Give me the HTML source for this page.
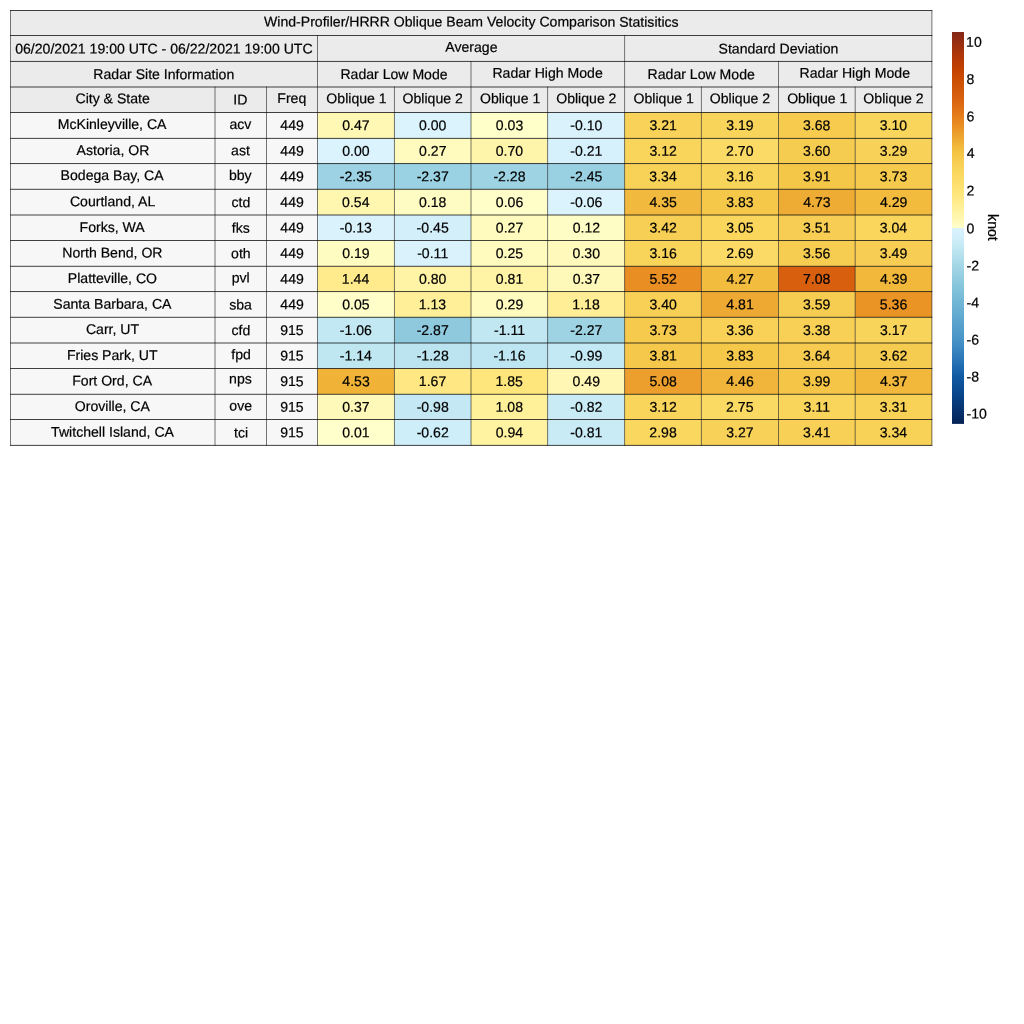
<!DOCTYPE html>
<html><head><meta charset="utf-8"><title>Wind-Profiler/HRRR Oblique Beam Velocity Comparison Statistics</title>
<style>html,body{margin:0;padding:0;background:#fff}svg{display:block}text{white-space:pre}</style></head>
<body><svg width="1024" height="1024" viewBox="0 0 1024 1024">
<defs><linearGradient id="cb" x1="0" y1="0" x2="0" y2="1"><stop offset="0.00194" stop-color="#852816"/><stop offset="0.02564" stop-color="#962d12"/><stop offset="0.04935" stop-color="#a8340c"/><stop offset="0.07305" stop-color="#b83a06"/><stop offset="0.09676" stop-color="#c44202"/><stop offset="0.12046" stop-color="#cc4d04"/><stop offset="0.14417" stop-color="#d25709"/><stop offset="0.16787" stop-color="#d8600f"/><stop offset="0.19158" stop-color="#de6e16"/><stop offset="0.21528" stop-color="#e57f1c"/><stop offset="0.23899" stop-color="#e98f22"/><stop offset="0.26269" stop-color="#eda22e"/><stop offset="0.28640" stop-color="#f0b439"/><stop offset="0.31010" stop-color="#f4c546"/><stop offset="0.33381" stop-color="#f7ce53"/><stop offset="0.35751" stop-color="#fad75e"/><stop offset="0.40492" stop-color="#fee377"/><stop offset="0.42863" stop-color="#ffea89"/><stop offset="0.45233" stop-color="#fff19d"/><stop offset="0.47604" stop-color="#fff7b2"/><stop offset="0.49974" stop-color="#ffffcc"/><stop offset="0.49974" stop-color="#dbf3fd"/><stop offset="0.52345" stop-color="#d2effa"/><stop offset="0.54715" stop-color="#c3e9f4"/><stop offset="0.59456" stop-color="#a5d8e6"/><stop offset="0.64197" stop-color="#8ac7dd"/><stop offset="0.68939" stop-color="#70b7d5"/><stop offset="0.73680" stop-color="#5ca5cf"/><stop offset="0.78421" stop-color="#4894c7"/><stop offset="0.83162" stop-color="#2d79ba"/><stop offset="0.87903" stop-color="#105aa4"/><stop offset="0.92644" stop-color="#08448a"/><stop offset="0.97385" stop-color="#062e68"/><stop offset="0.99755" stop-color="#052356"/></linearGradient></defs>
<rect x="0" y="0" width="1024" height="1024" fill="#ffffff"/>
<rect x="10.50" y="10.50" width="921.40" height="25.00" fill="#ebebeb"/>
<rect x="10.50" y="35.50" width="307.00" height="25.95" fill="#ebebeb"/>
<rect x="317.50" y="35.50" width="307.10" height="25.95" fill="#ebebeb"/>
<rect x="624.60" y="35.50" width="307.30" height="25.95" fill="#ebebeb"/>
<rect x="10.50" y="61.45" width="307.00" height="25.55" fill="#ebebeb"/>
<rect x="317.50" y="61.45" width="153.50" height="25.55" fill="#ebebeb"/>
<rect x="471.00" y="61.45" width="153.60" height="25.55" fill="#ebebeb"/>
<rect x="624.60" y="61.45" width="153.90" height="25.55" fill="#ebebeb"/>
<rect x="778.50" y="61.45" width="153.40" height="25.55" fill="#ebebeb"/>
<rect x="10.50" y="87.00" width="204.50" height="25.50" fill="#ebebeb"/>
<rect x="215.00" y="87.00" width="51.50" height="25.50" fill="#ebebeb"/>
<rect x="266.50" y="87.00" width="51.00" height="25.50" fill="#ebebeb"/>
<rect x="317.50" y="87.00" width="76.95" height="25.50" fill="#ebebeb"/>
<rect x="394.45" y="87.00" width="76.55" height="25.50" fill="#ebebeb"/>
<rect x="471.00" y="87.00" width="76.60" height="25.50" fill="#ebebeb"/>
<rect x="547.60" y="87.00" width="77.00" height="25.50" fill="#ebebeb"/>
<rect x="624.60" y="87.00" width="76.80" height="25.50" fill="#ebebeb"/>
<rect x="701.40" y="87.00" width="77.10" height="25.50" fill="#ebebeb"/>
<rect x="778.50" y="87.00" width="76.70" height="25.50" fill="#ebebeb"/>
<rect x="855.20" y="87.00" width="76.70" height="25.50" fill="#ebebeb"/>
<rect x="10.50" y="112.50" width="204.50" height="25.90" fill="#f7f7f7"/>
<rect x="215.00" y="112.50" width="51.50" height="25.90" fill="#f7f7f7"/>
<rect x="266.50" y="112.50" width="51.00" height="25.90" fill="#f7f7f7"/>
<rect x="317.50" y="112.50" width="76.95" height="25.90" fill="#fff7b4"/>
<rect x="394.45" y="112.50" width="76.55" height="25.90" fill="#dbf3fd"/>
<rect x="471.00" y="112.50" width="76.60" height="25.90" fill="#ffffca"/>
<rect x="547.60" y="112.50" width="77.00" height="25.90" fill="#d9f2fc"/>
<rect x="624.60" y="112.50" width="76.80" height="25.90" fill="#f9d359"/>
<rect x="701.40" y="112.50" width="77.10" height="25.90" fill="#f9d45a"/>
<rect x="778.50" y="112.50" width="76.70" height="25.90" fill="#f6cb4e"/>
<rect x="855.20" y="112.50" width="76.70" height="25.90" fill="#f9d55c"/>
<rect x="10.50" y="138.40" width="204.50" height="25.15" fill="#f7f7f7"/>
<rect x="215.00" y="138.40" width="51.50" height="25.15" fill="#f7f7f7"/>
<rect x="266.50" y="138.40" width="51.00" height="25.15" fill="#f7f7f7"/>
<rect x="317.50" y="138.40" width="76.95" height="25.15" fill="#dbf3fd"/>
<rect x="394.45" y="138.40" width="76.55" height="25.15" fill="#fffbbe"/>
<rect x="471.00" y="138.40" width="76.60" height="25.15" fill="#fff5aa"/>
<rect x="547.60" y="138.40" width="77.00" height="25.15" fill="#d7f1fc"/>
<rect x="624.60" y="138.40" width="76.80" height="25.15" fill="#f9d55b"/>
<rect x="701.40" y="138.40" width="77.10" height="25.15" fill="#fbdb66"/>
<rect x="778.50" y="138.40" width="76.70" height="25.15" fill="#f6cc50"/>
<rect x="855.20" y="138.40" width="76.70" height="25.15" fill="#f8d258"/>
<rect x="10.50" y="163.55" width="204.50" height="25.75" fill="#f7f7f7"/>
<rect x="215.00" y="163.55" width="51.50" height="25.75" fill="#f7f7f7"/>
<rect x="266.50" y="163.55" width="51.00" height="25.75" fill="#f7f7f7"/>
<rect x="317.50" y="163.55" width="76.95" height="25.75" fill="#9cd2e3"/>
<rect x="394.45" y="163.55" width="76.55" height="25.75" fill="#9bd2e3"/>
<rect x="471.00" y="163.55" width="76.60" height="25.75" fill="#9dd3e3"/>
<rect x="547.60" y="163.55" width="77.00" height="25.75" fill="#99d0e2"/>
<rect x="624.60" y="163.55" width="76.80" height="25.75" fill="#f8d157"/>
<rect x="701.40" y="163.55" width="77.10" height="25.75" fill="#f9d45a"/>
<rect x="778.50" y="163.55" width="76.70" height="25.75" fill="#f5c748"/>
<rect x="855.20" y="163.55" width="76.70" height="25.75" fill="#f6ca4d"/>
<rect x="10.50" y="189.30" width="204.50" height="25.70" fill="#f7f7f7"/>
<rect x="215.00" y="189.30" width="51.50" height="25.70" fill="#f7f7f7"/>
<rect x="266.50" y="189.30" width="51.00" height="25.70" fill="#f7f7f7"/>
<rect x="317.50" y="189.30" width="76.95" height="25.70" fill="#fff7b0"/>
<rect x="394.45" y="189.30" width="76.55" height="25.70" fill="#fffcc3"/>
<rect x="471.00" y="189.30" width="76.60" height="25.70" fill="#fffec9"/>
<rect x="547.60" y="189.30" width="77.00" height="25.70" fill="#daf3fd"/>
<rect x="624.60" y="189.30" width="76.80" height="25.70" fill="#f1b93d"/>
<rect x="701.40" y="189.30" width="77.10" height="25.70" fill="#f5c84a"/>
<rect x="778.50" y="189.30" width="76.70" height="25.70" fill="#efac34"/>
<rect x="855.20" y="189.30" width="76.70" height="25.70" fill="#f2bb3e"/>
<rect x="10.50" y="215.00" width="204.50" height="25.50" fill="#f7f7f7"/>
<rect x="215.00" y="215.00" width="51.50" height="25.50" fill="#f7f7f7"/>
<rect x="266.50" y="215.00" width="51.00" height="25.50" fill="#f7f7f7"/>
<rect x="317.50" y="215.00" width="76.95" height="25.50" fill="#d9f2fc"/>
<rect x="394.45" y="215.00" width="76.55" height="25.50" fill="#d3effa"/>
<rect x="471.00" y="215.00" width="76.60" height="25.50" fill="#fffbbe"/>
<rect x="547.60" y="215.00" width="77.00" height="25.50" fill="#fffdc6"/>
<rect x="624.60" y="215.00" width="76.80" height="25.50" fill="#f7cf55"/>
<rect x="701.40" y="215.00" width="77.10" height="25.50" fill="#fad65d"/>
<rect x="778.50" y="215.00" width="76.70" height="25.50" fill="#f7ce53"/>
<rect x="855.20" y="215.00" width="76.70" height="25.50" fill="#fad65d"/>
<rect x="10.50" y="240.50" width="204.50" height="25.80" fill="#f7f7f7"/>
<rect x="215.00" y="240.50" width="51.50" height="25.80" fill="#f7f7f7"/>
<rect x="266.50" y="240.50" width="51.00" height="25.80" fill="#f7f7f7"/>
<rect x="317.50" y="240.50" width="76.95" height="25.80" fill="#fffcc2"/>
<rect x="394.45" y="240.50" width="76.55" height="25.80" fill="#d9f2fc"/>
<rect x="471.00" y="240.50" width="76.60" height="25.80" fill="#fffbbf"/>
<rect x="547.60" y="240.50" width="77.00" height="25.80" fill="#fffabc"/>
<rect x="624.60" y="240.50" width="76.80" height="25.80" fill="#f9d45a"/>
<rect x="701.40" y="240.50" width="77.10" height="25.80" fill="#fbdb66"/>
<rect x="778.50" y="240.50" width="76.70" height="25.80" fill="#f7cd51"/>
<rect x="855.20" y="240.50" width="76.70" height="25.80" fill="#f7ce53"/>
<rect x="10.50" y="266.30" width="204.50" height="25.25" fill="#f7f7f7"/>
<rect x="215.00" y="266.30" width="51.50" height="25.25" fill="#f7f7f7"/>
<rect x="266.50" y="266.30" width="51.00" height="25.25" fill="#f7f7f7"/>
<rect x="317.50" y="266.30" width="76.95" height="25.25" fill="#ffeb8b"/>
<rect x="394.45" y="266.30" width="76.55" height="25.25" fill="#fff3a5"/>
<rect x="471.00" y="266.30" width="76.60" height="25.25" fill="#fff3a5"/>
<rect x="547.60" y="266.30" width="77.00" height="25.25" fill="#fff9b9"/>
<rect x="624.60" y="266.30" width="76.80" height="25.25" fill="#e98e22"/>
<rect x="701.40" y="266.30" width="77.10" height="25.25" fill="#f2bc3f"/>
<rect x="778.50" y="266.30" width="76.70" height="25.25" fill="#d75f0e"/>
<rect x="855.20" y="266.30" width="76.70" height="25.25" fill="#f1b83c"/>
<rect x="10.50" y="291.55" width="204.50" height="25.75" fill="#f7f7f7"/>
<rect x="215.00" y="291.55" width="51.50" height="25.75" fill="#f7f7f7"/>
<rect x="266.50" y="291.55" width="51.00" height="25.75" fill="#f7f7f7"/>
<rect x="317.50" y="291.55" width="76.95" height="25.75" fill="#fffec9"/>
<rect x="394.45" y="291.55" width="76.55" height="25.75" fill="#ffef98"/>
<rect x="471.00" y="291.55" width="76.60" height="25.75" fill="#fffabd"/>
<rect x="547.60" y="291.55" width="77.00" height="25.75" fill="#ffee96"/>
<rect x="624.60" y="291.55" width="76.80" height="25.75" fill="#f8d055"/>
<rect x="701.40" y="291.55" width="77.10" height="25.75" fill="#eea932"/>
<rect x="778.50" y="291.55" width="76.70" height="25.75" fill="#f6cc51"/>
<rect x="855.20" y="291.55" width="76.70" height="25.75" fill="#ea9425"/>
<rect x="10.50" y="317.30" width="204.50" height="25.70" fill="#f7f7f7"/>
<rect x="215.00" y="317.30" width="51.50" height="25.70" fill="#f7f7f7"/>
<rect x="266.50" y="317.30" width="51.00" height="25.70" fill="#f7f7f7"/>
<rect x="317.50" y="317.30" width="76.95" height="25.70" fill="#c1e8f3"/>
<rect x="394.45" y="317.30" width="76.55" height="25.70" fill="#8ec9de"/>
<rect x="471.00" y="317.30" width="76.60" height="25.70" fill="#c0e7f2"/>
<rect x="547.60" y="317.30" width="77.00" height="25.70" fill="#9ed3e4"/>
<rect x="624.60" y="317.30" width="76.80" height="25.70" fill="#f6ca4d"/>
<rect x="701.40" y="317.30" width="77.10" height="25.70" fill="#f8d156"/>
<rect x="778.50" y="317.30" width="76.70" height="25.70" fill="#f8d056"/>
<rect x="855.20" y="317.30" width="76.70" height="25.70" fill="#f9d45a"/>
<rect x="10.50" y="343.00" width="204.50" height="25.50" fill="#f7f7f7"/>
<rect x="215.00" y="343.00" width="51.50" height="25.50" fill="#f7f7f7"/>
<rect x="266.50" y="343.00" width="51.00" height="25.50" fill="#f7f7f7"/>
<rect x="317.50" y="343.00" width="76.95" height="25.50" fill="#bfe7f2"/>
<rect x="394.45" y="343.00" width="76.55" height="25.50" fill="#bbe4f0"/>
<rect x="471.00" y="343.00" width="76.60" height="25.50" fill="#bee6f2"/>
<rect x="547.60" y="343.00" width="77.00" height="25.50" fill="#c3e9f4"/>
<rect x="624.60" y="343.00" width="76.80" height="25.50" fill="#f5c84b"/>
<rect x="701.40" y="343.00" width="77.10" height="25.50" fill="#f5c84a"/>
<rect x="778.50" y="343.00" width="76.70" height="25.50" fill="#f6cb4f"/>
<rect x="855.20" y="343.00" width="76.70" height="25.50" fill="#f6cc50"/>
<rect x="10.50" y="368.50" width="204.50" height="25.80" fill="#f7f7f7"/>
<rect x="215.00" y="368.50" width="51.50" height="25.80" fill="#f7f7f7"/>
<rect x="266.50" y="368.50" width="51.00" height="25.80" fill="#f7f7f7"/>
<rect x="317.50" y="368.50" width="76.95" height="25.80" fill="#f0b338"/>
<rect x="394.45" y="368.50" width="76.55" height="25.80" fill="#ffe883"/>
<rect x="471.00" y="368.50" width="76.60" height="25.80" fill="#fee57c"/>
<rect x="547.60" y="368.50" width="77.00" height="25.80" fill="#fff7b3"/>
<rect x="624.60" y="368.50" width="76.80" height="25.80" fill="#ec9f2c"/>
<rect x="701.40" y="368.50" width="77.10" height="25.80" fill="#f0b53a"/>
<rect x="778.50" y="368.50" width="76.70" height="25.80" fill="#f4c546"/>
<rect x="855.20" y="368.50" width="76.70" height="25.80" fill="#f1b83c"/>
<rect x="10.50" y="394.30" width="204.50" height="25.20" fill="#f7f7f7"/>
<rect x="215.00" y="394.30" width="51.50" height="25.20" fill="#f7f7f7"/>
<rect x="266.50" y="394.30" width="51.00" height="25.20" fill="#f7f7f7"/>
<rect x="317.50" y="394.30" width="76.95" height="25.20" fill="#fff9b9"/>
<rect x="394.45" y="394.30" width="76.55" height="25.20" fill="#c4e9f4"/>
<rect x="471.00" y="394.30" width="76.60" height="25.20" fill="#fff09a"/>
<rect x="547.60" y="394.30" width="77.00" height="25.20" fill="#c8ebf6"/>
<rect x="624.60" y="394.30" width="76.80" height="25.20" fill="#f9d55b"/>
<rect x="701.40" y="394.30" width="77.10" height="25.20" fill="#fbda64"/>
<rect x="778.50" y="394.30" width="76.70" height="25.20" fill="#f9d55c"/>
<rect x="855.20" y="394.30" width="76.70" height="25.20" fill="#f8d157"/>
<rect x="10.50" y="419.50" width="204.50" height="25.90" fill="#f7f7f7"/>
<rect x="215.00" y="419.50" width="51.50" height="25.90" fill="#f7f7f7"/>
<rect x="266.50" y="419.50" width="51.00" height="25.90" fill="#f7f7f7"/>
<rect x="317.50" y="419.50" width="76.95" height="25.90" fill="#ffffcb"/>
<rect x="394.45" y="419.50" width="76.55" height="25.90" fill="#ceeef9"/>
<rect x="471.00" y="419.50" width="76.60" height="25.90" fill="#fff2a0"/>
<rect x="547.60" y="419.50" width="77.00" height="25.90" fill="#c9ebf6"/>
<rect x="624.60" y="419.50" width="76.80" height="25.90" fill="#fad75e"/>
<rect x="701.40" y="419.50" width="77.10" height="25.90" fill="#f8d258"/>
<rect x="778.50" y="419.50" width="76.70" height="25.90" fill="#f8d055"/>
<rect x="855.20" y="419.50" width="76.70" height="25.90" fill="#f8d157"/>
<path d="M10.11 10.50H932.29M10.11 35.50H932.29M10.11 61.45H932.29M10.11 87.00H932.29M10.11 112.50H932.29M10.11 138.40H932.29M10.11 163.55H932.29M10.11 189.30H932.29M10.11 215.00H932.29M10.11 240.50H932.29M10.11 266.30H932.29M10.11 291.55H932.29M10.11 317.30H932.29M10.11 343.00H932.29M10.11 368.50H932.29M10.11 394.30H932.29M10.11 419.50H932.29M10.11 445.40H932.29" fill="none" stroke="#0a0a0a" stroke-width="0.78"/>
<path d="M10.50 10.11V445.79M215.00 86.61V445.79M266.50 86.61V445.79M317.50 35.11V445.79M394.45 86.61V445.79M471.00 61.06V445.79M547.60 86.61V445.79M624.60 35.11V445.79M701.40 86.61V445.79M778.50 61.06V445.79M855.20 86.61V445.79M931.90 10.11V445.79" fill="none" stroke="#0a0a0a" stroke-width="0.56"/>
<g font-family="'Liberation Sans', Arial, Helvetica, sans-serif" font-size="14.08" fill="#000" stroke="#000" stroke-width="0.2">
<text x="264.00" y="26.54" transform="rotate(0.04 471.15 22.90)">Wind-Profiler/HRRR Oblique Beam Velocity Comparison Statisitics</text>
<text x="15.23" y="53.53" transform="rotate(0.04 163.95 48.50)">06/20/2021 19:00 UTC - 06/22/2021 19:00 UTC</text>
<text x="445.30" y="51.88" transform="rotate(0.04 471.10 48.50)">Average</text>
<text x="718.57" y="53.53" transform="rotate(0.04 778.30 48.50)">Standard Deviation</text>
<text x="93.39" y="79.13" transform="rotate(0.04 163.95 74.10)">Radar Site Information</text>
<text x="340.41" y="79.13" transform="rotate(0.04 394.30 74.10)">Radar Low Mode</text>
<text x="492.44" y="77.74" transform="rotate(0.04 547.90 74.10)">Radar High Mode</text>
<text x="647.61" y="79.13" transform="rotate(0.04 701.50 74.10)">Radar Low Mode</text>
<text x="799.64" y="77.74" transform="rotate(0.04 855.10 74.10)">Radar High Mode</text>
<text x="75.48" y="103.34" transform="rotate(0.04 112.70 99.70)">City &amp; State</text>
<text x="233.34" y="104.54" transform="rotate(0.04 240.70 99.70)">ID</text>
<text x="277.34" y="103.08" transform="rotate(0.04 291.95 99.70)">Freq</text>
<text x="326.37" y="103.34" transform="rotate(0.04 355.90 99.70)">Oblique 1</text>
<text x="402.59" y="103.34" transform="rotate(0.04 432.70 99.70)">Oblique 2</text>
<text x="479.97" y="103.34" transform="rotate(0.04 509.50 99.70)">Oblique 1</text>
<text x="556.19" y="103.34" transform="rotate(0.04 586.30 99.70)">Oblique 2</text>
<text x="633.57" y="103.34" transform="rotate(0.04 663.10 99.70)">Oblique 1</text>
<text x="709.79" y="103.34" transform="rotate(0.04 739.90 99.70)">Oblique 2</text>
<text x="787.17" y="103.34" transform="rotate(0.04 816.70 99.70)">Oblique 1</text>
<text x="863.39" y="103.34" transform="rotate(0.04 893.50 99.70)">Oblique 2</text>
<text x="57.75" y="128.94" transform="rotate(0.04 112.70 125.30)">McKinleyville, CA</text>
<text x="229.49" y="129.01" transform="rotate(0.04 240.70 125.30)">acv</text>
<text x="280.37" y="130.14" transform="rotate(0.04 291.95 125.30)">449</text>
<text x="342.28" y="130.14" transform="rotate(0.04 355.90 125.30)">0.47</text>
<text x="418.99" y="130.14" transform="rotate(0.04 432.70 125.30)">0.00</text>
<text x="495.82" y="130.14" transform="rotate(0.04 509.50 125.30)">0.03</text>
<text x="570.21" y="130.14" transform="rotate(0.04 586.30 125.30)">-0.10</text>
<text x="649.48" y="130.14" transform="rotate(0.04 663.10 125.30)">3.21</text>
<text x="726.26" y="130.14" transform="rotate(0.04 739.90 125.30)">3.19</text>
<text x="803.04" y="130.14" transform="rotate(0.04 816.70 125.30)">3.68</text>
<text x="879.81" y="130.14" transform="rotate(0.04 893.50 125.30)">3.10</text>
<text x="76.64" y="155.11" transform="rotate(0.04 112.70 150.90)">Astoria, OR</text>
<text x="231.07" y="155.37" transform="rotate(0.04 240.70 150.90)">ast</text>
<text x="280.37" y="155.74" transform="rotate(0.04 291.95 150.90)">449</text>
<text x="342.19" y="155.74" transform="rotate(0.04 355.90 150.90)">0.00</text>
<text x="419.08" y="155.74" transform="rotate(0.04 432.70 150.90)">0.27</text>
<text x="495.79" y="155.74" transform="rotate(0.04 509.50 150.90)">0.70</text>
<text x="570.28" y="155.74" transform="rotate(0.04 586.30 150.90)">-0.21</text>
<text x="649.50" y="155.74" transform="rotate(0.04 663.10 150.90)">3.12</text>
<text x="726.12" y="155.74" transform="rotate(0.04 739.90 150.90)">2.70</text>
<text x="803.01" y="155.74" transform="rotate(0.04 816.70 150.90)">3.60</text>
<text x="879.86" y="155.74" transform="rotate(0.04 893.50 150.90)">3.29</text>
<text x="60.60" y="180.14" transform="rotate(0.04 112.70 176.50)">Bodega Bay, CA</text>
<text x="228.91" y="180.14" transform="rotate(0.04 240.70 176.50)">bby</text>
<text x="280.37" y="181.34" transform="rotate(0.04 291.95 176.50)">449</text>
<text x="339.83" y="181.34" transform="rotate(0.04 355.90 176.50)">-2.35</text>
<text x="416.70" y="181.34" transform="rotate(0.04 432.70 176.50)">-2.37</text>
<text x="493.45" y="181.34" transform="rotate(0.04 509.50 176.50)">-2.28</text>
<text x="570.23" y="181.34" transform="rotate(0.04 586.30 176.50)">-2.45</text>
<text x="649.34" y="181.34" transform="rotate(0.04 663.10 176.50)">3.34</text>
<text x="726.24" y="181.34" transform="rotate(0.04 739.90 176.50)">3.16</text>
<text x="803.08" y="181.34" transform="rotate(0.04 816.70 176.50)">3.91</text>
<text x="879.84" y="181.34" transform="rotate(0.04 893.50 176.50)">3.73</text>
<text x="69.93" y="206.31" transform="rotate(0.04 112.70 202.10)">Courtland, AL</text>
<text x="231.46" y="207.13" transform="rotate(0.04 240.70 202.10)">ctd</text>
<text x="280.37" y="206.94" transform="rotate(0.04 291.95 202.10)">449</text>
<text x="342.12" y="206.94" transform="rotate(0.04 355.90 202.10)">0.54</text>
<text x="419.02" y="206.94" transform="rotate(0.04 432.70 202.10)">0.18</text>
<text x="495.82" y="206.94" transform="rotate(0.04 509.50 202.10)">0.06</text>
<text x="570.25" y="206.94" transform="rotate(0.04 586.30 202.10)">-0.06</text>
<text x="649.53" y="206.94" transform="rotate(0.04 663.10 202.10)">4.35</text>
<text x="726.24" y="206.94" transform="rotate(0.04 739.90 202.10)">3.83</text>
<text x="803.15" y="206.94" transform="rotate(0.04 816.70 202.10)">4.73</text>
<text x="879.97" y="206.94" transform="rotate(0.04 893.50 202.10)">4.29</text>
<text x="79.54" y="231.91" transform="rotate(0.04 112.70 227.70)">Forks, WA</text>
<text x="231.85" y="232.73" transform="rotate(0.04 240.70 227.70)">fks</text>
<text x="280.37" y="232.54" transform="rotate(0.04 291.95 227.70)">449</text>
<text x="339.85" y="232.54" transform="rotate(0.04 355.90 227.70)">-0.13</text>
<text x="416.63" y="232.54" transform="rotate(0.04 432.70 227.70)">-0.45</text>
<text x="495.88" y="232.54" transform="rotate(0.04 509.50 227.70)">0.27</text>
<text x="572.68" y="232.54" transform="rotate(0.04 586.30 227.70)">0.12</text>
<text x="649.50" y="232.54" transform="rotate(0.04 663.10 227.70)">3.42</text>
<text x="726.22" y="232.54" transform="rotate(0.04 739.90 227.70)">3.05</text>
<text x="803.08" y="232.54" transform="rotate(0.04 816.70 227.70)">3.51</text>
<text x="879.74" y="232.54" transform="rotate(0.04 893.50 227.70)">3.04</text>
<text x="62.36" y="257.51" transform="rotate(0.04 112.70 253.30)">North Bend, OR</text>
<text x="231.07" y="258.33" transform="rotate(0.04 240.70 253.30)">oth</text>
<text x="280.37" y="258.14" transform="rotate(0.04 291.95 253.30)">449</text>
<text x="342.24" y="258.14" transform="rotate(0.04 355.90 253.30)">0.19</text>
<text x="417.19" y="258.14" transform="rotate(0.04 432.70 253.30)">-0.11</text>
<text x="495.81" y="258.14" transform="rotate(0.04 509.50 253.30)">0.25</text>
<text x="572.59" y="258.14" transform="rotate(0.04 586.30 253.30)">0.30</text>
<text x="649.44" y="258.14" transform="rotate(0.04 663.10 253.30)">3.16</text>
<text x="726.17" y="258.14" transform="rotate(0.04 739.90 253.30)">2.69</text>
<text x="803.04" y="258.14" transform="rotate(0.04 816.70 253.30)">3.56</text>
<text x="879.86" y="258.14" transform="rotate(0.04 893.50 253.30)">3.49</text>
<text x="67.86" y="283.11" transform="rotate(0.04 112.70 278.90)">Platteville, CO</text>
<text x="231.72" y="282.54" transform="rotate(0.04 240.70 278.90)">pvl</text>
<text x="280.37" y="283.74" transform="rotate(0.04 291.95 278.90)">449</text>
<text x="341.87" y="283.74" transform="rotate(0.04 355.90 278.90)">1.44</text>
<text x="418.99" y="283.74" transform="rotate(0.04 432.70 278.90)">0.80</text>
<text x="495.86" y="283.74" transform="rotate(0.04 509.50 278.90)">0.81</text>
<text x="572.68" y="283.74" transform="rotate(0.04 586.30 278.90)">0.37</text>
<text x="649.48" y="283.74" transform="rotate(0.04 663.10 278.90)">5.52</text>
<text x="726.40" y="283.81" transform="rotate(0.04 739.90 278.90)">4.27</text>
<text x="802.94" y="283.74" transform="rotate(0.04 816.70 278.90)">7.08</text>
<text x="879.97" y="283.74" transform="rotate(0.04 893.50 278.90)">4.39</text>
<text x="53.30" y="308.71" transform="rotate(0.04 112.70 304.50)">Santa Barbara, CA</text>
<text x="229.17" y="309.53" transform="rotate(0.04 240.70 304.50)">sba</text>
<text x="280.37" y="309.34" transform="rotate(0.04 291.95 304.50)">449</text>
<text x="342.21" y="309.34" transform="rotate(0.04 355.90 304.50)">0.05</text>
<text x="418.78" y="309.34" transform="rotate(0.04 432.70 304.50)">1.13</text>
<text x="495.84" y="309.34" transform="rotate(0.04 509.50 304.50)">0.29</text>
<text x="572.38" y="309.34" transform="rotate(0.04 586.30 304.50)">1.18</text>
<text x="649.41" y="309.34" transform="rotate(0.04 663.10 304.50)">3.40</text>
<text x="726.38" y="309.34" transform="rotate(0.04 739.90 304.50)">4.81</text>
<text x="803.06" y="309.34" transform="rotate(0.04 816.70 304.50)">3.59</text>
<text x="879.82" y="309.34" transform="rotate(0.04 893.50 304.50)">5.36</text>
<text x="85.91" y="334.11" transform="rotate(0.04 112.70 330.10)">Carr, UT</text>
<text x="231.46" y="335.13" transform="rotate(0.04 240.70 330.10)">cfd</text>
<text x="280.16" y="334.94" transform="rotate(0.04 291.95 330.10)">915</text>
<text x="339.85" y="334.94" transform="rotate(0.04 355.90 330.10)">-1.06</text>
<text x="416.70" y="334.94" transform="rotate(0.04 432.70 330.10)">-2.87</text>
<text x="493.99" y="334.94" transform="rotate(0.04 509.50 330.10)">-1.11</text>
<text x="570.30" y="335.01" transform="rotate(0.04 586.30 330.10)">-2.27</text>
<text x="649.44" y="334.94" transform="rotate(0.04 663.10 330.10)">3.73</text>
<text x="726.24" y="334.94" transform="rotate(0.04 739.90 330.10)">3.36</text>
<text x="803.04" y="334.94" transform="rotate(0.04 816.70 330.10)">3.38</text>
<text x="879.90" y="334.94" transform="rotate(0.04 893.50 330.10)">3.17</text>
<text x="66.90" y="359.91" transform="rotate(0.04 112.70 355.70)">Fries Park, UT</text>
<text x="231.25" y="359.34" transform="rotate(0.04 240.70 355.70)">fpd</text>
<text x="280.16" y="360.54" transform="rotate(0.04 291.95 355.70)">915</text>
<text x="339.74" y="360.54" transform="rotate(0.04 355.90 355.70)">-1.14</text>
<text x="416.65" y="360.54" transform="rotate(0.04 432.70 355.70)">-1.28</text>
<text x="493.45" y="360.54" transform="rotate(0.04 509.50 355.70)">-1.16</text>
<text x="570.27" y="360.54" transform="rotate(0.04 586.30 355.70)">-0.99</text>
<text x="649.48" y="360.54" transform="rotate(0.04 663.10 355.70)">3.81</text>
<text x="726.24" y="360.54" transform="rotate(0.04 739.90 355.70)">3.83</text>
<text x="802.94" y="360.54" transform="rotate(0.04 816.70 355.70)">3.64</text>
<text x="879.90" y="360.54" transform="rotate(0.04 893.50 355.70)">3.62</text>
<text x="72.24" y="385.51" transform="rotate(0.04 112.70 381.30)">Fort Ord, CA</text>
<text x="229.12" y="383.62" transform="rotate(0.04 240.70 381.30)">nps</text>
<text x="280.16" y="386.14" transform="rotate(0.04 291.95 381.30)">915</text>
<text x="342.35" y="386.14" transform="rotate(0.04 355.90 381.30)">4.53</text>
<text x="418.83" y="386.14" transform="rotate(0.04 432.70 381.30)">1.67</text>
<text x="495.56" y="386.14" transform="rotate(0.04 509.50 381.30)">1.85</text>
<text x="572.64" y="386.14" transform="rotate(0.04 586.30 381.30)">0.49</text>
<text x="649.42" y="386.14" transform="rotate(0.04 663.10 381.30)">5.08</text>
<text x="726.35" y="386.14" transform="rotate(0.04 739.90 381.30)">4.46</text>
<text x="803.06" y="386.14" transform="rotate(0.04 816.70 381.30)">3.99</text>
<text x="880.00" y="386.14" transform="rotate(0.04 893.50 381.30)">4.37</text>
<text x="74.82" y="411.11" transform="rotate(0.04 112.70 406.90)">Oroville, CA</text>
<text x="229.37" y="410.61" transform="rotate(0.04 240.70 406.90)">ove</text>
<text x="280.16" y="411.74" transform="rotate(0.04 291.95 406.90)">915</text>
<text x="342.28" y="411.74" transform="rotate(0.04 355.90 406.90)">0.37</text>
<text x="416.65" y="411.74" transform="rotate(0.04 432.70 406.90)">-0.98</text>
<text x="495.58" y="411.74" transform="rotate(0.04 509.50 406.90)">1.08</text>
<text x="570.30" y="411.74" transform="rotate(0.04 586.30 406.90)">-0.82</text>
<text x="649.50" y="411.74" transform="rotate(0.04 663.10 406.90)">3.12</text>
<text x="726.14" y="411.74" transform="rotate(0.04 739.90 406.90)">2.75</text>
<text x="803.61" y="411.74" transform="rotate(0.04 816.70 406.90)">3.11</text>
<text x="879.88" y="411.74" transform="rotate(0.04 893.50 406.90)">3.31</text>
<text x="51.12" y="436.71" transform="rotate(0.04 112.70 432.50)">Twitchell Island, CA</text>
<text x="234.03" y="437.53" transform="rotate(0.04 240.70 432.50)">tci</text>
<text x="280.16" y="437.34" transform="rotate(0.04 291.95 432.50)">915</text>
<text x="342.26" y="437.34" transform="rotate(0.04 355.90 432.50)">0.01</text>
<text x="416.70" y="437.34" transform="rotate(0.04 432.70 432.50)">-0.62</text>
<text x="495.72" y="437.34" transform="rotate(0.04 509.50 432.50)">0.94</text>
<text x="570.28" y="437.34" transform="rotate(0.04 586.30 432.50)">-0.81</text>
<text x="649.35" y="437.34" transform="rotate(0.04 663.10 432.50)">2.98</text>
<text x="726.30" y="437.34" transform="rotate(0.04 739.90 432.50)">3.27</text>
<text x="803.08" y="437.34" transform="rotate(0.04 816.70 432.50)">3.41</text>
<text x="879.74" y="437.34" transform="rotate(0.04 893.50 432.50)">3.34</text>
<rect x="952.0" y="32.0" width="12.0" height="391.90" fill="url(#cb)" stroke="none"/>
<text x="966.57" y="418.59" transform="rotate(0.04 976.79 413.65)">-10</text>
<text x="966.57" y="381.63" transform="rotate(0.04 972.83 376.49)">-8</text>
<text x="966.57" y="344.62" transform="rotate(0.04 972.83 339.33)">-6</text>
<text x="966.57" y="307.51" transform="rotate(0.04 972.94 302.17)">-4</text>
<text x="966.57" y="270.42" transform="rotate(0.04 972.78 265.01)">-2</text>
<text x="966.64" y="233.19" transform="rotate(0.04 970.56 227.85)">0</text>
<text x="966.50" y="195.60" transform="rotate(0.04 970.40 190.69)">2</text>
<text x="966.88" y="158.07" transform="rotate(0.04 970.76 153.53)">4</text>
<text x="966.50" y="121.21" transform="rotate(0.04 970.46 116.37)">6</text>
<text x="966.60" y="84.05" transform="rotate(0.04 970.51 79.21)">8</text>
<text x="966.14" y="46.89" transform="rotate(0.04 974.22 42.05)">10</text>
<text transform="translate(987.8,214.12) rotate(90)" x="0" y="0">knot</text>
</g>
</svg></body></html>
